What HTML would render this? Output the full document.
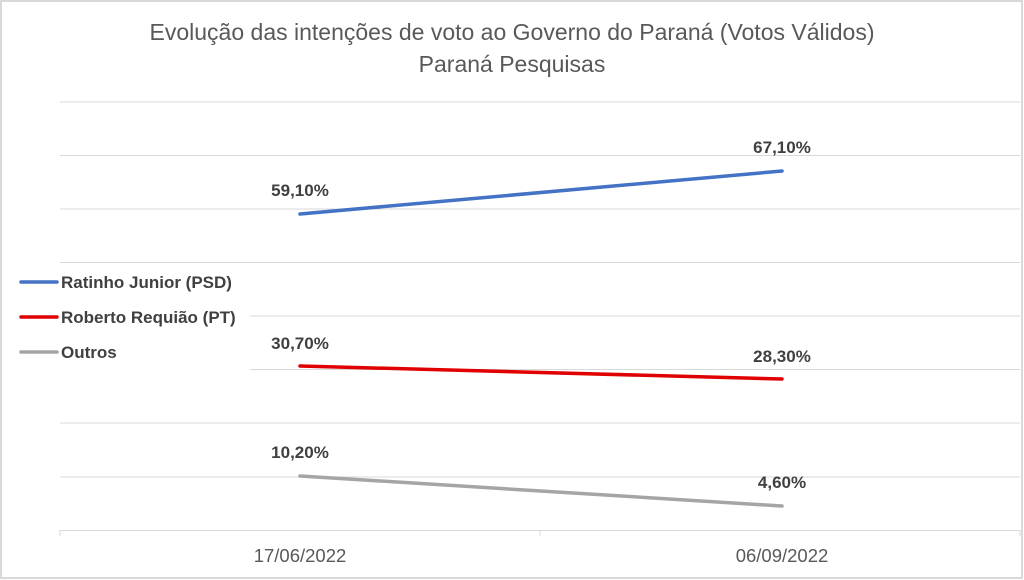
<!DOCTYPE html>
<html><head><meta charset="utf-8"><style>
html,body{margin:0;padding:0;background:#fff;}
svg{display:block;font-family:"Liberation Sans",sans-serif;}
</style></head><body>
<svg width="1024" height="580" viewBox="0 0 1024 580" xmlns="http://www.w3.org/2000/svg">
<rect x="1" y="1" width="1021" height="577" fill="#fff" stroke="#d9d9d9" stroke-width="2"/>
<text x="512" y="40" text-anchor="middle" font-size="23" fill="#595959">Evolução das intenções de voto ao Governo do Paraná (Votos Válidos)</text>
<text x="512" y="72" text-anchor="middle" font-size="23" fill="#595959">Paraná Pesquisas</text>
<g stroke="#d9d9d9" stroke-width="1">
<line x1="60" x2="1020" y1="102" y2="102"/>
<line x1="60" x2="1020" y1="155.5" y2="155.5"/>
<line x1="60" x2="1020" y1="209" y2="209"/>
<line x1="60" x2="1020" y1="262.5" y2="262.5"/>
<line x1="60" x2="1020" y1="316" y2="316"/>
<line x1="60" x2="1020" y1="369.5" y2="369.5"/>
<line x1="60" x2="1020" y1="423" y2="423"/>
<line x1="60" x2="1020" y1="477" y2="477"/>
<line x1="60" x2="1020" y1="530.5" y2="530.5"/>
<line x1="60" x2="60" y1="530" y2="536"/>
<line x1="540" x2="540" y1="530" y2="536"/>
<line x1="1020" x2="1020" y1="530" y2="536"/>
</g>
<rect x="4" y="266" width="246" height="106" fill="#fff"/>
<g stroke-linecap="round" stroke-width="3.5">
<line x1="300" y1="214" x2="782" y2="171" stroke="#4472c4"/>
<line x1="300" y1="366" x2="782" y2="379" stroke="#e00000"/>
<line x1="300" y1="476" x2="782" y2="506" stroke="#a5a5a5"/>
<line x1="21" y1="282" x2="57" y2="282" stroke="#4472c4"/>
<line x1="21" y1="317" x2="57" y2="317" stroke="#e00000"/>
<line x1="21" y1="352" x2="57" y2="352" stroke="#a5a5a5"/>
</g>
<g font-size="17" font-weight="bold" fill="#404040">
<text x="61" y="288">Ratinho Junior (PSD)</text>
<text x="61" y="323">Roberto Requião (PT)</text>
<text x="61" y="358">Outros</text>
<g text-anchor="middle">
<text x="300" y="196">59,10%</text>
<text x="782" y="153">67,10%</text>
<text x="300" y="349">30,70%</text>
<text x="782" y="362">28,30%</text>
<text x="300" y="458">10,20%</text>
<text x="782" y="488">4,60%</text>
</g>
</g>
<g font-size="18.5" fill="#595959" text-anchor="middle">
<text x="300" y="562">17/06/2022</text>
<text x="782" y="562">06/09/2022</text>
</g>
</svg>
</body></html>
